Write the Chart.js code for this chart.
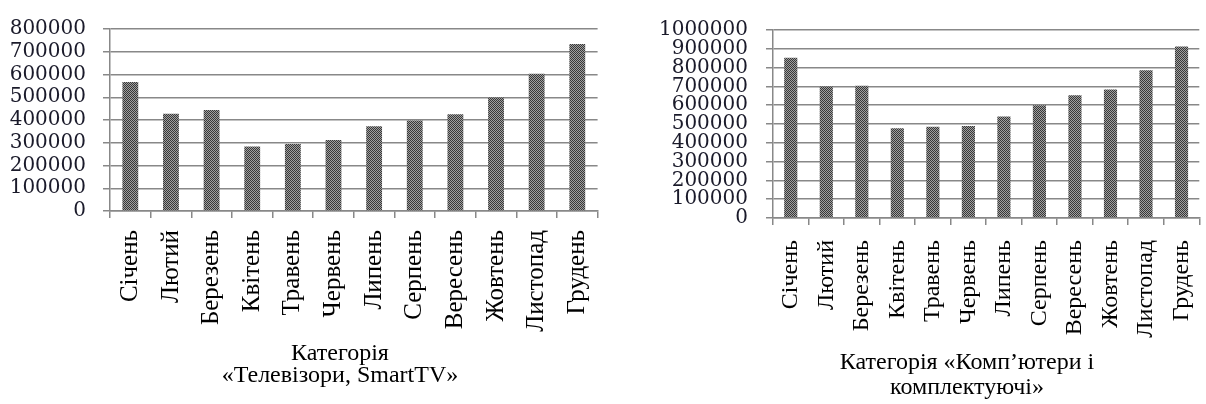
<!DOCTYPE html>
<html>
<head>
<meta charset="utf-8">
<script src="https://cdn.jsdelivr.net/npm/chart.js@4/dist/chart.umd.min.js"></script>
<style>
  html, body { margin: 0; padding: 0; background: #fff; overflow: hidden; width: 1206px; height: 404px; }
  canvas { position: absolute; top: 0; }
  #tv { left: 0; }
  #pc { left: 640px; }
</style>
</head>
<body>
<canvas id="tv" width="620" height="404"></canvas>
<canvas id="pc" width="586" height="404"></canvas>
<script>
// Monthly sales by category
const months = ['Січень', 'Лютий', 'Березень', 'Квітень', 'Травень', 'Червень',
                'Липень', 'Серпень', 'Вересень', 'Жовтень', 'Листопад', 'Грудень'];
const tvSales = [567000, 428000, 444000, 284000, 294000, 312000, 373000, 398000, 425000, 499000, 603000, 734000];
const pcSales = [853000, 700000, 703000, 477000, 485000, 489000, 540000, 600000, 653000, 683000, 786000, 912000];
const tvTitle = ['Категорія', '«Телевізори, SmartTV»'];
const pcTitle = ['Категорія «Комп’ютери і', 'комплектуючі»'];

// Checkered bar fill
function makePattern() {
  const c = document.createElement('canvas');
  c.width = 2; c.height = 2;
  const g = c.getContext('2d');
  g.fillStyle = '#a0a0a0'; g.fillRect(0, 0, 2, 2);
  g.fillStyle = '#383838'; g.fillRect(0, 0, 1, 1); g.fillRect(1, 1, 1, 1);
  return g.createPattern(c, 'repeat');
}

// Category caption under the month labels
const captionPlugin = {
  id: 'caption',
  afterDraw(chart, args, opts) {
    const ctx = chart.ctx;
    ctx.save();
    ctx.font = opts.font;
    ctx.fillStyle = '#000';
    ctx.textAlign = 'center';
    ctx.textBaseline = 'middle';
    opts.lines.forEach((t, i) => ctx.fillText(t, chart.chartArea.left + opts.dx, opts.y[i]));
    ctx.restore();
  }
};

function makeChart(id, values, max, cfg) {
  return new Chart(document.getElementById(id), {
    type: 'bar',
    data: {
      labels: months,
      datasets: [{
        data: values,
        backgroundColor: makePattern(),
        borderWidth: 0,
        barPercentage: cfg.barPct,
        categoryPercentage: 1
      }]
    },
    options: {
      responsive: false,
      animation: false,
      devicePixelRatio: 1,
      layout: { padding: { top: 16, right: cfg.padRight, left: 0, bottom: 0 } },
      plugins: {
        legend: { display: false },
        tooltip: { enabled: false },
        caption: { lines: cfg.title, dx: cfg.titleDx, y: cfg.titleY, font: '24px "Liberation Serif"' }
      },
      scales: {
        x: {
          afterFit: s => { s.height = 404 - cfg.bottom; },
          grid: { drawOnChartArea: false, drawTicks: true, tickLength: 7, color: '#888', lineWidth: 1.5 },
          border: { color: '#888', width: 1.5 },
          ticks: {
            autoSkip: false, minRotation: 90, maxRotation: 90, padding: cfg.xPad,
            color: '#000', font: { family: 'Liberation Serif', size: cfg.xFont }
          }
        },
        y: {
          min: 0, max: max,
          afterFit: s => { s.width = cfg.yWidth; },
          grid: { color: '#888', lineWidth: 1.5, tickLength: 7 },
          border: { color: '#888', width: 1.5 },
          ticks: {
            stepSize: 100000, autoSkip: false, padding: cfg.yPad, color: '#1a1a2a',
            font: { family: 'DejaVu Serif', size: 20 },
            callback: v => String(v)
          }
        }
      }
    },
    plugins: [captionPlugin]
  });
}

makeChart('tv', tvSales, 800000, {
  barPct: 0.39, padRight: 17, bottom: 211, xPad: 12, xFont: 25, yWidth: 110, yPad: 17,
  title: tvTitle, titleDx: 230, titleY: [354, 376]
});
makeChart('pc', pcSales, 1000000, {
  barPct: 0.37, padRight: 16, bottom: 218, xPad: 15, xFont: 24, yWidth: 133, yPad: 18,
  title: pcTitle, titleDx: 194, titleY: [363, 388]
});
</script>
</body>
</html>
